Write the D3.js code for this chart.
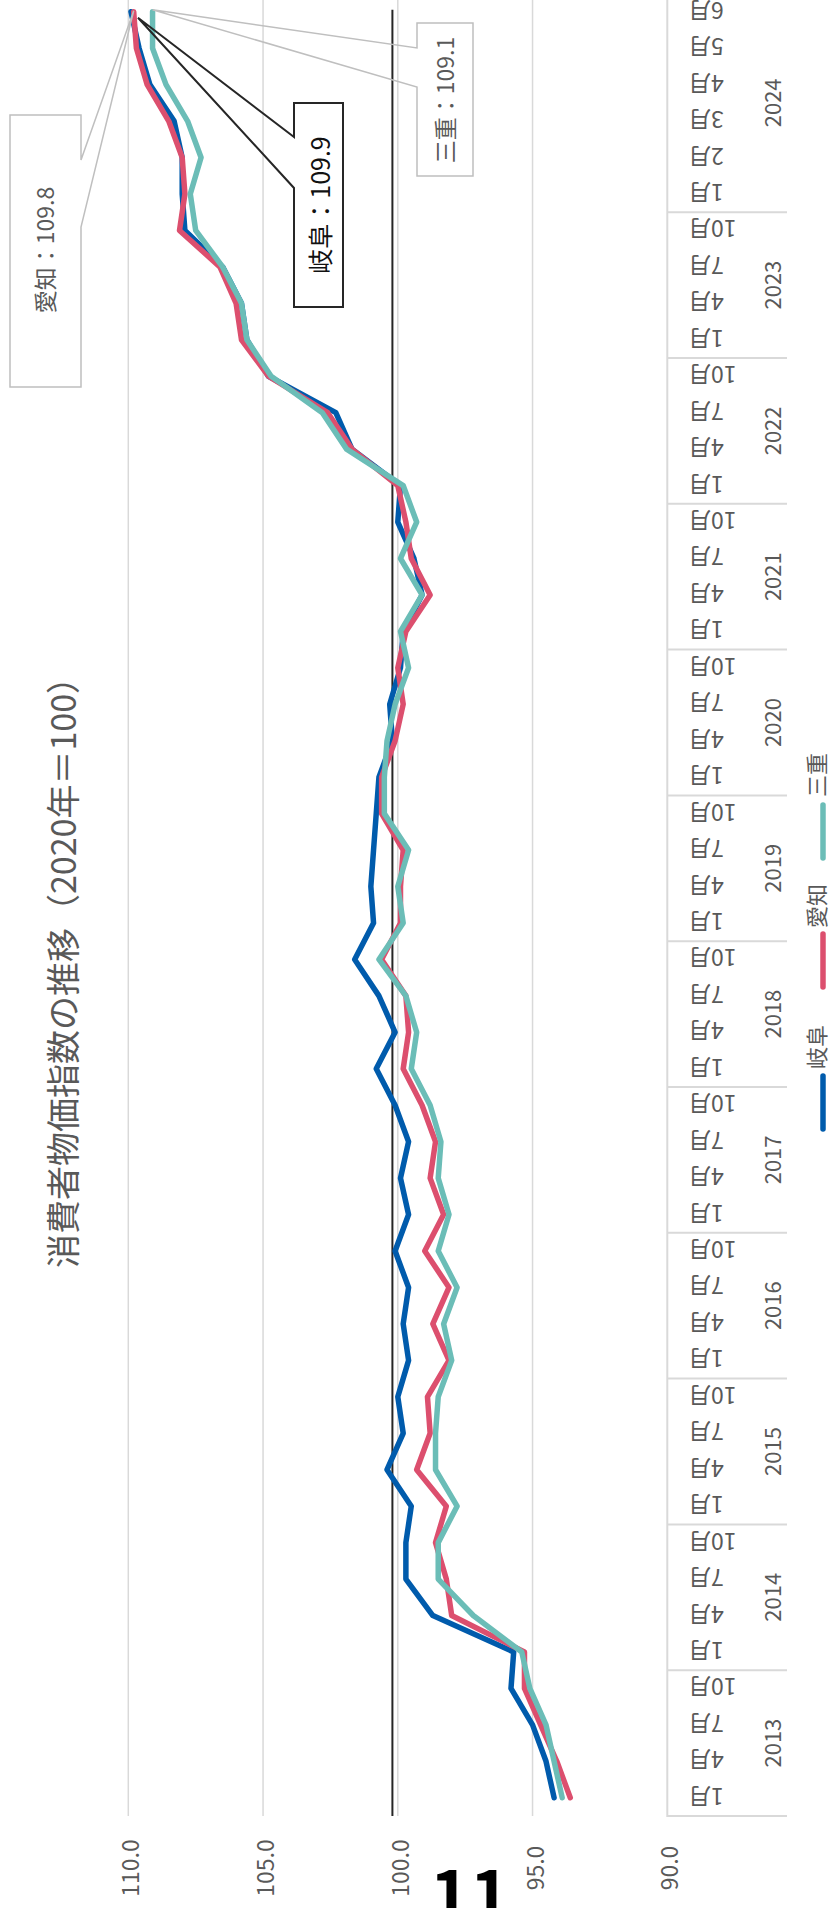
<!DOCTYPE html>
<html><head><meta charset="utf-8">
<script src="https://cdn.jsdelivr.net/npm/d3@7"></script>
<style>
body{margin:0;background:#fff;}
svg{display:block;}
text{font-family:"Noto Sans CJK JP","Noto Sans",sans-serif;}
</style>
</head><body><div id="chart"></div>
<script>
// ---- data ----
const years = ["2013","2014","2015","2016","2017","2018","2019","2020","2021","2022","2023","2024"];
const quarterMonths = ["1月","4月","7月","10月"];
const months2024 = ["1月","2月","3月","4月","5月","6月"];
const seriesNames = ["岐阜","愛知","三重"];
const gifu = [94.2,94.5,95.0,95.8, 95.7,98.7,99.7,99.7, 99.5,100.4,99.8,100.0, 99.6,99.8,99.6,100.1,
  99.6,99.9,99.6,100.1, 100.8,100.1,100.7,101.6, 100.9,101.0,100.9,100.8, 100.7,100.2,100.3,99.9,
  99.8,99.1,99.4,100.0, 99.9,101.7,102.3,104.8, 105.6,105.8,106.5,107.9, 108.0,108.0,108.3,109.2,109.6,109.9];
const aichi = [93.6,94.1,94.7,95.3, 95.3,98.0,98.2,98.6, 98.2,99.3,98.8,98.9, 98.1,98.7,98.1,99.0,
  98.3,98.8,98.6,99.1, 99.8,99.6,99.7,100.6, 99.9,99.9,99.8,100.6, 100.6,100.1,99.8,100.0,
  99.7,98.8,99.5,99.7, 100.0,101.7,102.6,104.8, 105.8,106.0,106.6,108.1, 107.9,108.0,108.5,109.3,109.7,109.8];
const mie = [93.9,94.2,94.5,95.1, 95.4,97.2,98.5,98.5, 97.8,98.6,98.6,98.5, 98.0,98.3,97.8,98.5,
  98.1,98.5,98.4,98.8, 99.5,99.3,99.7,100.7, 99.8,100.0,99.6,100.5, 100.5,100.4,100.1,99.6,
  99.9,99.1,99.9,99.3, 99.8,101.9,102.8,104.7, 105.6,105.8,106.5,107.5, 107.7,107.3,107.8,108.6,109.1,109.1];
const valueTicks = [90,95,100,105,110];
const refValue = 100.2;
const pageNumber = "11";
const titleText = "消費者物価指数の推移（2020年＝100）";

// categories built from the arrays above
const categories = [];
years.forEach(yr => {
  const ms = yr === "2024" ? months2024 : quarterMonths;
  ms.forEach(m => categories.push({year: yr, month: m}));
});

const colors = {"岐阜":"#005bac","愛知":"#dc4f6e","三重":"#6bbdb7"};
const series = [
  {name:"岐阜", values: gifu},
  {name:"愛知", values: aichi},
  {name:"三重", values: mie}
];

// ---- layout ----
const W = 831, H = 1908;
const plotBottom = 1816, band = 36.45;
const axisX = 667.3, topX = 128.3;
const grid = "#d9d9d9", txt = "#595959";
const axisFont = 23;

const svg = d3.select("#chart").append("svg").attr("width", W).attr("height", H);

const x = d3.scaleLinear().domain([90,110]).range([axisX, topX]);
const y = d3.scaleBand().domain(d3.range(categories.length))
  .range([plotBottom, plotBottom - band*categories.length]).padding(0);
const yc = i => y(i) + y.bandwidth()/2;
const plotTop = plotBottom - band*categories.length;

// gridlines
svg.append("g").selectAll("line").data(valueTicks.filter(v => v !== 90)).join("line")
  .attr("x1", d => x(d)).attr("x2", d => x(d))
  .attr("y1", plotTop).attr("y2", plotBottom)
  .attr("stroke", grid).attr("stroke-width", 1.5);

// category axis line
svg.append("line").attr("x1", x(90)).attr("x2", x(90))
  .attr("y1", plotTop).attr("y2", plotBottom + 1)
  .attr("stroke", grid).attr("stroke-width", 2);

// value labels
svg.append("g").selectAll("text").data(valueTicks).join("text")
  .attr("transform", d => `translate(${x(d)+1},1868) rotate(-90)`)
  .attr("text-anchor","middle").attr("dominant-baseline","central")
  .attr("font-size", axisFont).attr("fill", txt)
  .text(d => d3.format(".1f")(d));

// month labels (rotated 180)
svg.append("g").selectAll("text").data(categories).join("text")
  .attr("transform", (d,i) => `translate(688,${yc(i)}) rotate(180)`)
  .attr("text-anchor","end").attr("dominant-baseline","central")
  .attr("font-size", axisFont).attr("fill", txt)
  .text(d => d.month);

// year groups
const groups = years.map(yr => {
  const idx = categories.map((c,i)=>c.year===yr?i:-1).filter(i=>i>=0);
  return {year: yr, first: idx[0], last: idx[idx.length-1]};
});
svg.append("g").selectAll("line").data(groups).join("line")
  .attr("x1", x(90)).attr("x2", 787)
  .attr("y1", d => y(d.first) + y.bandwidth()).attr("y2", d => y(d.first) + y.bandwidth())
  .attr("stroke", grid).attr("stroke-width", 2);
svg.append("g").selectAll("text").data(groups).join("text")
  .attr("transform", d => `translate(771,${(yc(d.first)+yc(d.last))/2}) rotate(-90)`)
  .attr("text-anchor","middle").attr("dominant-baseline","central")
  .attr("font-size", axisFont - 1).attr("fill", txt)
  .text(d => d.year);

// reference line
svg.append("line").attr("x1", x(refValue)).attr("x2", x(refValue))
  .attr("y1", yc(categories.length-1) - 2).attr("y2", plotBottom)
  .attr("stroke", "#262626").attr("stroke-width", 2);

// series lines
const line = d3.line().x(d => x(d)).y((d,i) => yc(i));
svg.append("g").selectAll("path").data(series).join("path")
  .attr("d", d => line(d.values))
  .attr("fill","none").attr("stroke", d => colors[d.name])
  .attr("stroke-width", 5.5).attr("stroke-linejoin","round").attr("stroke-linecap","round");

// title
svg.append("text").attr("transform","translate(61,964) rotate(-90)")
  .attr("text-anchor","middle").attr("dominant-baseline","central")
  .attr("font-size", 34).attr("fill", txt).text(titleText);

// legend
const legendItems = [
  {name:"岐阜", lineTop:1076, textC:1047},
  {name:"愛知", lineTop:934, textC:906},
  {name:"三重", lineTop:805, textC:775}
];
const lg = svg.append("g");
lg.selectAll("line").data(legendItems).join("line")
  .attr("x1", 823).attr("x2", 823).attr("y1", d => d.lineTop).attr("y2", d => d.lineTop + 53)
  .attr("stroke", d => colors[d.name]).attr("stroke-width", 5.5).attr("stroke-linecap","round");
lg.selectAll("text").data(legendItems).join("text")
  .attr("transform", d => `translate(815,${d.textC}) rotate(-90)`)
  .attr("text-anchor","middle").attr("dominant-baseline","central")
  .attr("font-size", 22).attr("fill", txt).text(d => d.name);

// callouts
const last = categories.length - 1;
const callouts = [
  {name:"愛知", value: aichi[last], box:[10,115,81,387], side:"right", w:[160,227], tip:[x(aichi[last]), yc(last)-1],
   stroke:"#bfbfbf", sw:1.5, color:txt, fs:23, tc:[44,250]},
  {name:"岐阜", value: gifu[last], box:[294,103,343,307], side:"left", w:[137,188], tip:[x(gifu[last])+7, yc(last)+6],
   stroke:"#262626", sw:2, color:"#111", fs:25, tc:[319,205]},
  {name:"三重", value: mie[last], box:[417,23,473,176], side:"left", w:[48,87], tip:[x(mie[last]), yc(last)-2],
   stroke:"#bfbfbf", sw:1.5, color:txt, fs:23, tc:[444,100]}
];
const cg = svg.append("g");
callouts.forEach(c => {
  const [x0,y0,x1,y1] = c.box;
  cg.append("rect").attr("x",x0).attr("y",y0).attr("width",x1-x0).attr("height",y1-y0).attr("fill","#fff");
  let pts;
  if (c.side === "right") {
    pts = [[x0,y0],[x1,y0],[x1,c.w[0]],c.tip,[x1,c.w[1]],[x1,y1],[x0,y1]];
  } else {
    pts = [[x0,y0],[x1,y0],[x1,y1],[x0,y1],[x0,c.w[1]],c.tip,[x0,c.w[0]]];
  }
  cg.append("path").attr("d", d3.line()(pts) + "Z")
    .attr("fill","none").attr("stroke", c.stroke).attr("stroke-width", c.sw).attr("stroke-linejoin","miter");
  cg.append("text").attr("transform", `translate(${c.tc[0]},${c.tc[1]}) rotate(-90)`)
    .attr("text-anchor","middle").attr("dominant-baseline","central")
    .attr("font-size", c.fs).attr("fill", c.color)
    .text(`${c.name}：${d3.format(".1f")(c.value)}`);
});

// page number
svg.append("text").attr("x", 470).attr("y", 1919).attr("text-anchor","middle")
  .attr("font-family","'Liberation Sans', Arial, sans-serif").attr("font-weight","bold")
  .attr("font-size", 68).attr("fill","#000").text(pageNumber);
</script></body></html>
